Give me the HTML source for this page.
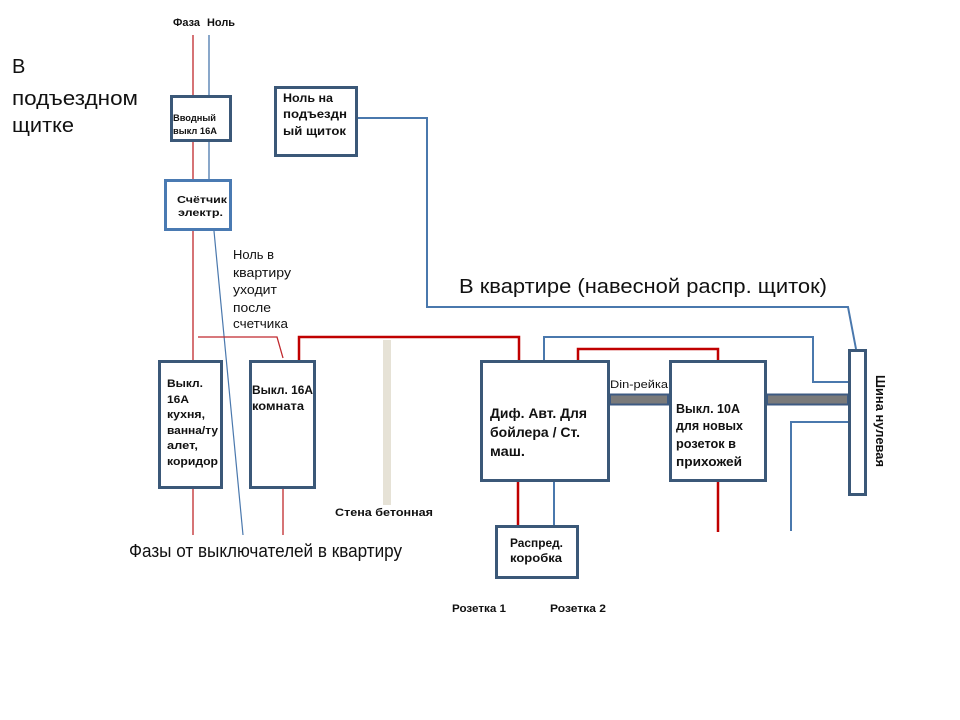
<!DOCTYPE html>
<html>
<head>
<meta charset="utf-8">
<style>
  html,body{margin:0;padding:0;background:#fff;}
  svg{display:block;}
  text{font-family:"Liberation Sans","DejaVu Sans",sans-serif;fill:#111;}
  .b{font-weight:bold;}
</style>
</head>
<body>
<svg width="960" height="720" viewBox="0 0 960 720" xmlns="http://www.w3.org/2000/svg">
  <rect x="0" y="0" width="960" height="720" fill="#fff"/>

  <!-- wall -->
  <rect x="383" y="340" width="8" height="165" fill="#e6e2d6"/>

  <!-- incoming phase / neutral -->
  <line x1="193" y1="35" x2="193" y2="360" stroke="#c0282d" stroke-width="1.3"/>
  <line x1="209" y1="35" x2="209" y2="180" stroke="#4a78ad" stroke-width="1.3"/>
  <line x1="214" y1="231" x2="243" y2="535" stroke="#4a78ad" stroke-width="1.2"/>

  <!-- thin red branch -->
  <polyline points="198,337 277,337 283,358" fill="none" stroke="#c0282d" stroke-width="1.3"/>
  <!-- thick red -->
  <polyline points="299,360 299,337 519,337 519,360" fill="none" stroke="#c00000" stroke-width="2.5"/>
  <polyline points="578,360 578,349 718,349 718,360" fill="none" stroke="#c00000" stroke-width="2.5"/>

  <!-- outputs -->
  <line x1="193" y1="489" x2="193" y2="535" stroke="#c0282d" stroke-width="1.3"/>
  <line x1="283" y1="489" x2="283" y2="535" stroke="#c0282d" stroke-width="1.3"/>
  <line x1="518" y1="482" x2="518" y2="525" stroke="#c00000" stroke-width="2.5"/>
  <line x1="554" y1="482" x2="554" y2="525" stroke="#4a78ad" stroke-width="2"/>
  <line x1="718" y1="482" x2="718" y2="532" stroke="#c00000" stroke-width="2.5"/>

  <!-- blue neutrals -->
  <polyline points="358,118 427,118 427,307 848,307 856,349" fill="none" stroke="#4a78ad" stroke-width="2"/>
  <polyline points="544,360 544,337 813,337 813,382 848,382" fill="none" stroke="#4a78ad" stroke-width="2"/>
  <polyline points="848,422 791,422 791,531" fill="none" stroke="#4a78ad" stroke-width="2"/>

  <!-- din rails -->
  <rect x="610" y="394.5" width="58" height="10" fill="#7a7a7a" stroke="#3d5a82" stroke-width="2"/>
  <rect x="767" y="394.5" width="81" height="10" fill="#7a7a7a" stroke="#3d5a82" stroke-width="2"/>

  <!-- boxes -->
  <g fill="#fff" stroke="#3b5878" stroke-width="3">
    <rect x="171.5" y="96.5" width="59" height="44"/>
    <rect x="275.5" y="87.5" width="81" height="68"/>
    <rect x="159.5" y="361.5" width="62" height="126"/>
    <rect x="250.5" y="361.5" width="64" height="126"/>
    <rect x="481.5" y="361.5" width="127" height="119"/>
    <rect x="670.5" y="361.5" width="95" height="119"/>
    <rect x="496.5" y="526.5" width="81" height="51"/>
    <rect x="849.5" y="350.5" width="16" height="144"/>
  </g>
  <rect x="165.5" y="180.5" width="65" height="49" fill="#fff" stroke="#4a7ab2" stroke-width="3"/>

  <!-- texts -->
  <text class="b" x="173" y="26" font-size="11" textLength="27" lengthAdjust="spacingAndGlyphs">Фаза</text>
  <text class="b" x="207" y="26" font-size="11" textLength="28" lengthAdjust="spacingAndGlyphs">Ноль</text>

  <text x="12" y="73" font-size="20">В</text>
  <text x="12" y="105" font-size="20" textLength="126" lengthAdjust="spacingAndGlyphs">подъездном</text>
  <text x="12" y="132" font-size="20" textLength="62" lengthAdjust="spacingAndGlyphs">щитке</text>

  <text class="b" x="173" y="121" font-size="9" textLength="43" lengthAdjust="spacingAndGlyphs">Вводный</text>
  <text class="b" x="173" y="134" font-size="9" textLength="44" lengthAdjust="spacingAndGlyphs">выкл 16А</text>

  <text class="b" x="177" y="203" font-size="10" textLength="50" lengthAdjust="spacingAndGlyphs">Счётчик</text>
  <text class="b" x="178" y="216" font-size="10" textLength="45" lengthAdjust="spacingAndGlyphs">электр.</text>

  <text class="b" x="283" y="102" font-size="12" textLength="50" lengthAdjust="spacingAndGlyphs">Ноль на</text>
  <text class="b" x="283" y="118" font-size="12" textLength="64" lengthAdjust="spacingAndGlyphs">подъездн</text>
  <text class="b" x="283" y="135" font-size="12" textLength="63" lengthAdjust="spacingAndGlyphs">ый щиток</text>

  <text x="233" y="259" font-size="13" textLength="41" lengthAdjust="spacingAndGlyphs">Ноль в</text>
  <text x="233" y="277" font-size="13" textLength="58" lengthAdjust="spacingAndGlyphs">квартиру</text>
  <text x="233" y="294" font-size="13" textLength="44" lengthAdjust="spacingAndGlyphs">уходит</text>
  <text x="233" y="312" font-size="13" textLength="38" lengthAdjust="spacingAndGlyphs">после</text>
  <text x="233" y="328" font-size="13" textLength="55" lengthAdjust="spacingAndGlyphs">счетчика</text>

  <text class="b" x="167" y="387" font-size="11" textLength="36" lengthAdjust="spacingAndGlyphs">Выкл.</text>
  <text class="b" x="167" y="403" font-size="11" textLength="22" lengthAdjust="spacingAndGlyphs">16А</text>
  <text class="b" x="167" y="418" font-size="11" textLength="38" lengthAdjust="spacingAndGlyphs">кухня,</text>
  <text class="b" x="167" y="434" font-size="11" textLength="51" lengthAdjust="spacingAndGlyphs">ванна/ту</text>
  <text class="b" x="167" y="449" font-size="11" textLength="31" lengthAdjust="spacingAndGlyphs">алет,</text>
  <text class="b" x="167" y="465" font-size="11" textLength="51" lengthAdjust="spacingAndGlyphs">коридор</text>

  <text class="b" x="252" y="394" font-size="12" textLength="61" lengthAdjust="spacingAndGlyphs">Выкл. 16А</text>
  <text class="b" x="252" y="410" font-size="12" textLength="52" lengthAdjust="spacingAndGlyphs">комната</text>

  <text class="b" x="335" y="516" font-size="11" textLength="98" lengthAdjust="spacingAndGlyphs">Стена бетонная</text>

  <text x="129" y="557" font-size="18" textLength="273" lengthAdjust="spacingAndGlyphs">Фазы от выключателей в квартиру</text>

  <text x="459" y="293" font-size="20" textLength="368" lengthAdjust="spacingAndGlyphs">В квартире (навесной распр. щиток)</text>

  <text class="b" x="490" y="418" font-size="14" textLength="97" lengthAdjust="spacingAndGlyphs">Диф. Авт. Для</text>
  <text class="b" x="490" y="437" font-size="14" textLength="90" lengthAdjust="spacingAndGlyphs">бойлера / Ст.</text>
  <text class="b" x="490" y="456" font-size="14" textLength="35" lengthAdjust="spacingAndGlyphs">маш.</text>

  <text x="610" y="388" font-size="11" textLength="58" lengthAdjust="spacingAndGlyphs">Din-рейка</text>

  <text class="b" x="676" y="413" font-size="13" textLength="64" lengthAdjust="spacingAndGlyphs">Выкл. 10А</text>
  <text class="b" x="676" y="430" font-size="13" textLength="67" lengthAdjust="spacingAndGlyphs">для новых</text>
  <text class="b" x="676" y="448" font-size="13" textLength="60" lengthAdjust="spacingAndGlyphs">розеток в</text>
  <text class="b" x="676" y="466" font-size="13" textLength="66" lengthAdjust="spacingAndGlyphs">прихожей</text>

  <text class="b" x="510" y="547" font-size="12" textLength="53" lengthAdjust="spacingAndGlyphs">Распред.</text>
  <text class="b" x="510" y="562" font-size="12" textLength="52" lengthAdjust="spacingAndGlyphs">коробка</text>

  <text class="b" x="452" y="612" font-size="11" textLength="54" lengthAdjust="spacingAndGlyphs">Розетка 1</text>
  <text class="b" x="550" y="612" font-size="11" textLength="56" lengthAdjust="spacingAndGlyphs">Розетка 2</text>

  <text class="b" transform="translate(876,375) rotate(90)" x="0" y="0" font-size="13" textLength="92" lengthAdjust="spacingAndGlyphs">Шина нулевая</text>
</svg>
</body>
</html>
